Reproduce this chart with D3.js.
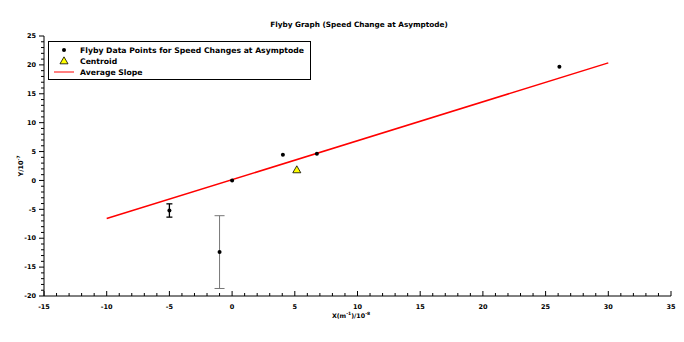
<!DOCTYPE html>
<meta charset="utf-8">
<style>
body { margin: 0; background: #fff; }
text { font-family: "DejaVu Sans", sans-serif; font-weight: bold; }
</style>
<body>
<svg class="chart"></svg>
<script src="https://d3js.org/d3.v7.min.js"></script>
<script>
"use strict";

// flyby data points (x in 1e-8 m^-1, y in 1e-7)
var pointX = [-5, -1, 0, 4.05, 6.76, 26.1];
var pointY = [-5.2, -12.4, 0, 4.45, 4.62, 19.67];
var pointErr = [1.15, 6.3, 0, 0, 0, 0];
var centroidX = [5.16];
var centroidY = [1.73];
var slopeX = [-10, 30];
var slopeY = [-6.6, 20.35];
var xTicks = [-15, -10, -5, 0, 5, 10, 15, 20, 25, 30, 35];
var yTicks = [-20, -15, -10, -5, 0, 5, 10, 15, 20, 25];
var legendLabels = ["Flyby Data Points for Speed Changes at Asymptode", "Centroid", "Average Slope"];

var width = 684, height = 342;
var margin = {left: 44, right: 13, top: 36, bottom: 46};

var svg = d3.select('.chart')
  .attr('width', width)
  .attr('height', height);

var x = d3.scaleLinear().domain([-15, 35]).range([margin.left, width - margin.right]);
var y = d3.scaleLinear().domain([-20, 25]).range([height - margin.bottom, margin.top]);

// title
svg.append('text')
  .attr('x', 359).attr('y', 27)
  .attr('text-anchor', 'middle')
  .style('font-size', '7.3px')
  .text('Flyby Graph (Speed Change at Asymptode)');

// x axis, ticks pointing up
var xAxis = svg.append('g')
  .attr('transform', 'translate(0,' + y(-20) + ')');
xAxis.append('line')
  .attr('x1', x(-15)).attr('x2', x(35))
  .attr('stroke', '#000').attr('stroke-width', 1);
xAxis.selectAll('.minor').data(d3.range(-15, 36, 1)).enter().append('line')
  .attr('x1', function (d) { return x(d); })
  .attr('x2', function (d) { return x(d); })
  .attr('y1', 0)
  .attr('y2', function (d) { return d % 5 === 0 ? -5 : -3; })
  .attr('stroke', '#000').attr('stroke-width', 1);
xAxis.selectAll('.lab').data(xTicks).enter().append('text')
  .attr('x', function (d) { return x(d); })
  .attr('y', 13)
  .attr('text-anchor', 'middle')
  .style('font-size', '6.5px')
  .text(function (d) { return d; });

// y axis, ticks pointing left
var yAxis = svg.append('g')
  .attr('transform', 'translate(' + x(-15) + ',0)');
yAxis.append('line')
  .attr('y1', y(-20)).attr('y2', y(25))
  .attr('stroke', '#000').attr('stroke-width', 1);
yAxis.selectAll('.minor').data(d3.range(-20, 26, 1)).enter().append('line')
  .attr('y1', function (d) { return y(d); })
  .attr('y2', function (d) { return y(d); })
  .attr('x1', 0)
  .attr('x2', function (d) { return d % 5 === 0 ? -5 : -3; })
  .attr('stroke', '#000').attr('stroke-width', 1);
yAxis.selectAll('.lab').data(yTicks).enter().append('text')
  .attr('x', -8)
  .attr('y', function (d) { return y(d); })
  .attr('dy', '0.35em')
  .attr('text-anchor', 'end')
  .style('font-size', '6.5px')
  .text(function (d) { return d; });

// axis titles
svg.append('text')
  .attr('x', 351).attr('y', 318)
  .attr('text-anchor', 'middle')
  .style('font-size', '6.3px')
  .html('X(m<tspan dy="-3" style="font-size:4.5px">-1</tspan><tspan dy="3">)/10</tspan><tspan dy="-3" style="font-size:4.5px">-8</tspan>');
svg.append('text')
  .attr('transform', 'translate(23,166) rotate(-90)')
  .attr('text-anchor', 'middle')
  .style('font-size', '6.5px')
  .html('Y/10<tspan dy="-3" style="font-size:4.5px">-7</tspan>');

// average slope line
svg.append('line')
  .attr('x1', x(slopeX[0])).attr('y1', y(slopeY[0]))
  .attr('x2', x(slopeX[1])).attr('y2', y(slopeY[1]))
  .attr('stroke', '#ff0000').attr('stroke-width', 1.5);

// error bars
var pts = pointX.map(function (d, i) { return {x: d, y: pointY[i], e: pointErr[i]}; });
var bars = svg.selectAll('.err').data(pts.filter(function (d) { return d.e > 0; })).enter().append('g')
  .attr('stroke', function (d) { return d.e > 3 ? '#777' : '#000'; })
  .attr('stroke-width', function (d) { return d.e > 3 ? 1 : 1.3; });
bars.append('line')
  .attr('x1', function (d) { return x(d.x); }).attr('x2', function (d) { return x(d.x); })
  .attr('y1', function (d) { return y(d.y - d.e); }).attr('y2', function (d) { return y(d.y + d.e); });
bars.append('line')
  .attr('x1', function (d) { return x(d.x) - (d.e > 3 ? 5 : 3); })
  .attr('x2', function (d) { return x(d.x) + (d.e > 3 ? 5 : 3); })
  .attr('y1', function (d) { return y(d.y - d.e); }).attr('y2', function (d) { return y(d.y - d.e); });
bars.append('line')
  .attr('x1', function (d) { return x(d.x) - (d.e > 3 ? 5 : 3); })
  .attr('x2', function (d) { return x(d.x) + (d.e > 3 ? 5 : 3); })
  .attr('y1', function (d) { return y(d.y + d.e); }).attr('y2', function (d) { return y(d.y + d.e); });

// data points
svg.selectAll('.pt').data(pts).enter().append('circle')
  .attr('cx', function (d) { return x(d.x); })
  .attr('cy', function (d) { return y(d.y); })
  .attr('r', 2)
  .attr('fill', '#000');

// centroid
var tri = d3.symbol().type(d3.symbolTriangle).size(28);
svg.selectAll('.cen').data(centroidX).enter().append('path')
  .attr('d', tri)
  .attr('transform', function (d, i) { return 'translate(' + x(d) + ',' + y(centroidY[i]) + ')'; })
  .attr('fill', '#ffff00').attr('stroke', '#000').attr('stroke-width', 0.8);

// legend
var legend = svg.append('g');
legend.append('rect')
  .attr('x', 48.5).attr('y', 41.5).attr('width', 262).attr('height', 38)
  .attr('fill', '#fff').attr('stroke', '#000').attr('stroke-width', 1);
legend.append('circle').attr('cx', 64).attr('cy', 50).attr('r', 2).attr('fill', '#000');
legend.append('path').attr('d', tri)
  .attr('transform', 'translate(64,61.5)')
  .attr('fill', '#ffff00').attr('stroke', '#000').attr('stroke-width', 0.8);
legend.append('line').attr('x1', 54).attr('x2', 74).attr('y1', 72).attr('y2', 72)
  .attr('stroke', '#ff0000').attr('stroke-width', 1);
legend.selectAll('.ll').data(legendLabels).enter().append('text')
  .attr('x', 80)
  .attr('y', function (d, i) { return 50 + i * 11.3; })
  .attr('dy', '0.35em')
  .style('font-size', '7.7px')
  .text(function (d) { return d; });
</script>
</body>
